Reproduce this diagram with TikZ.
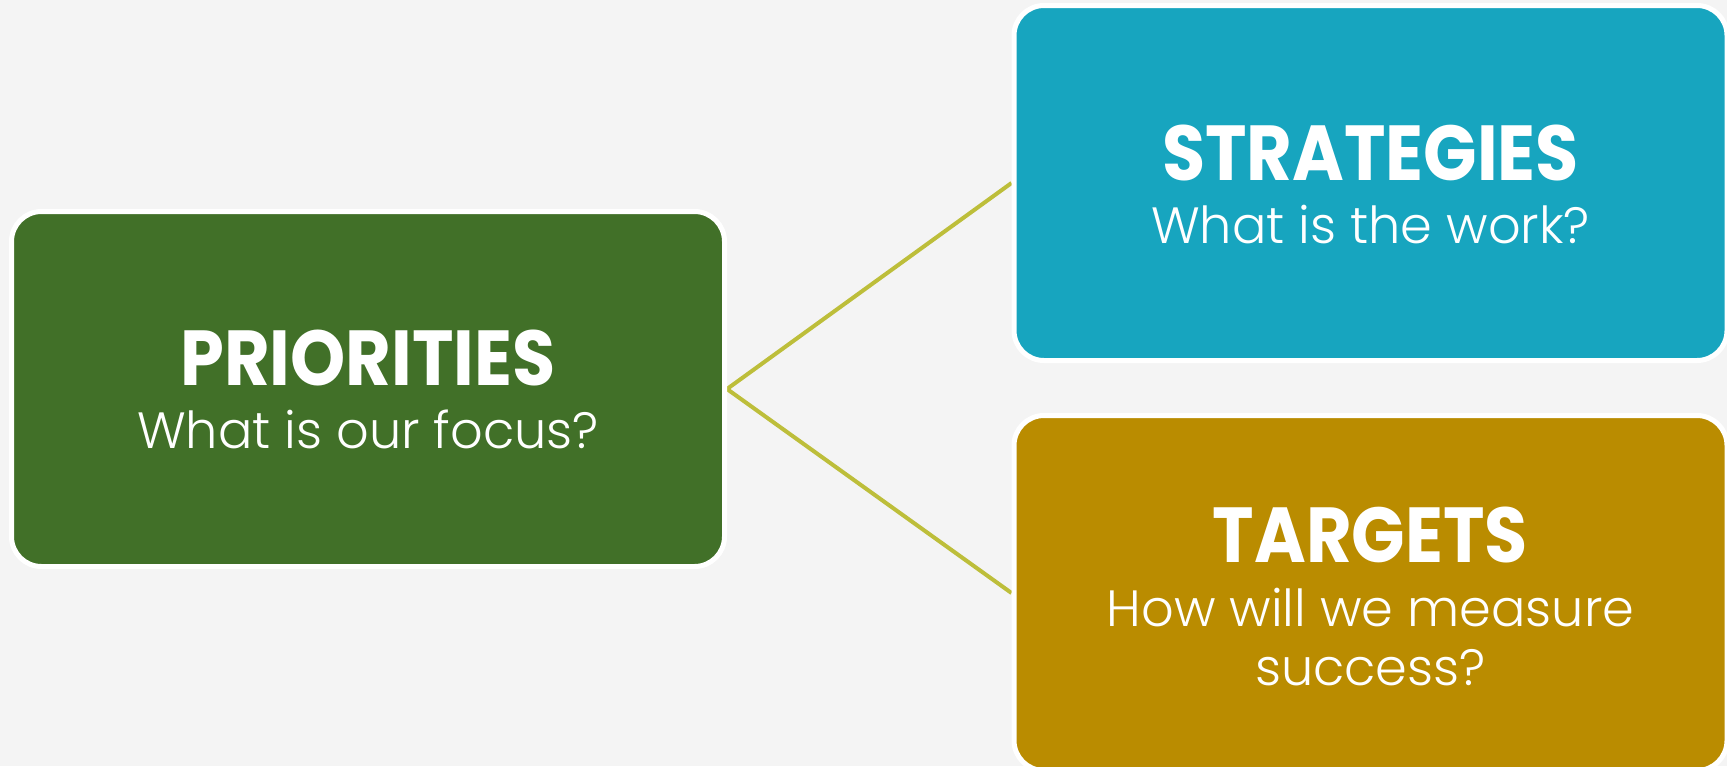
\documentclass[tikz,border=0pt]{standalone}
\usepackage{fontspec}
\setmainfont{Poppins}
\newfontfamily\titlefont{Poppins}[FakeStretch=0.9]
\IfFontExistsTF{Poppins Light}{\newfontfamily\lightfont{Poppins Light}}{\newfontfamily\lightfont{Poppins}}
\usetikzlibrary{calc}
\definecolor{bgc}{HTML}{F4F4F4}
\definecolor{grn}{HTML}{417028}
\definecolor{blu}{HTML}{17A5BF}
\definecolor{gld}{HTML}{BA8C00}
\definecolor{lnk}{HTML}{BDBE3A}
\pgfdeclarelayer{bglayer}
\pgfdeclarelayer{linelayer}
\pgfsetlayers{bglayer,linelayer,main}
\begin{document}
\begin{tikzpicture}[x=1pt,y=-1pt,
  box/.style={draw=white, line width=5pt, rounded corners=30pt, minimum width=713pt, minimum height=355pt, inner sep=0pt},
  ttl/.style={text=white, anchor=base, inner sep=0pt, font=\fontsize{78}{78}\selectfont\titlefont\bfseries},
  sub/.style={text=white, anchor=base, inner sep=0pt, font=\fontsize{51}{51}\selectfont\lightfont},
  link/.style={draw=lnk, line width=4pt}]
\useasboundingbox (0,0) rectangle (1727,766);
\begin{pgfonlayer}{bglayer}
\fill[bgc] (0,0) rectangle (1727,766);
\end{pgfonlayer}
\node[box, fill=grn] (pri) at (368,389) {};
\node[box, fill=blu] (str) at (1370.5,183) {};
\node[box, fill=gld] (tar) at (1370.5,593) {};
\node[ttl] (prit) at (368,385) {PRIORITIES};
\node[sub] (pris) at (368,448) {What is our focus?};
\node[ttl] (strt) at (1370.5,180) {STRATEGIES};
\node[sub] (strs) at (1370.5,243) {What is the work?};
\node[ttl] (tart) at (1370.5,562) {TARGETS};
\node[sub] (tars1) at (1370.5,626) {How will we measure};
\node[sub] (tars2) at (1370.5,685) {success?};
\begin{pgfonlayer}{linelayer}
\draw[link] (pri.east) -- (str.west);
\draw[link] (pri.east) -- (tar.west);
\end{pgfonlayer}
\end{tikzpicture}
\end{document}
